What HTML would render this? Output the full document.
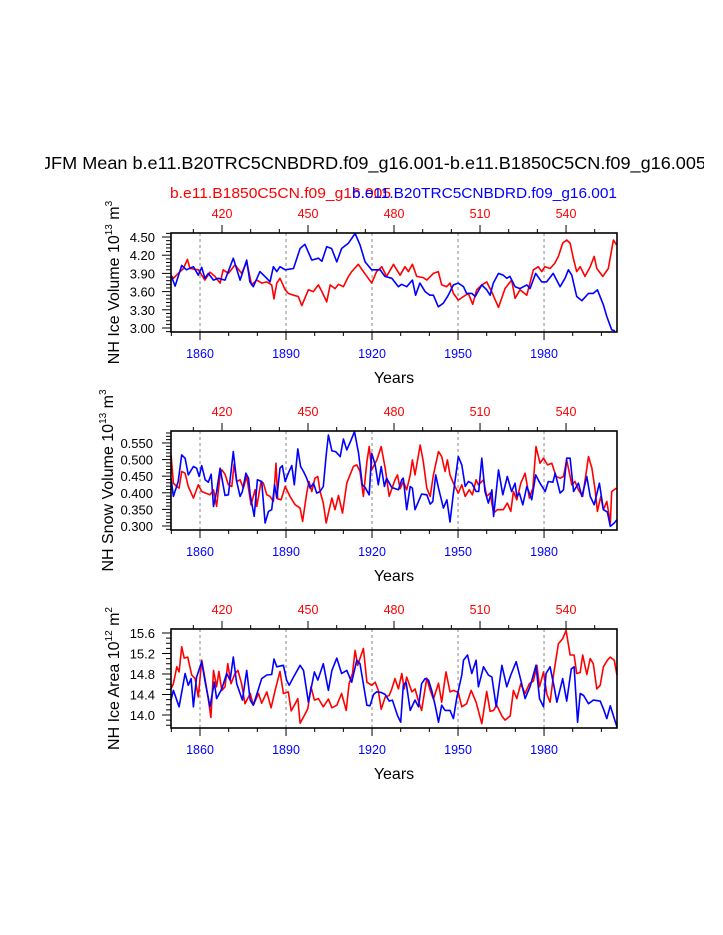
<!DOCTYPE html>
<html><head><meta charset="utf-8"><style>
html,body{margin:0;padding:0;background:#fff;}
svg{display:block;font-family:"Liberation Sans",Arial,sans-serif;}
</style></head><body>
<svg id="chart" width="723" height="935" viewBox="0 0 723 935" xmlns="http://www.w3.org/2000/svg">
<rect width="723" height="935" fill="#fff"/>
<defs><clipPath id="titleclip"><rect x="45" y="140" width="659" height="40"/></clipPath></defs>
<text x="374" y="169" font-size="17.5" text-anchor="middle" clip-path="url(#titleclip)" textLength="664" lengthAdjust="spacingAndGlyphs">JFM Mean b.e11.B20TRC5CNBDRD.f09_g16.001-b.e11.B1850C5CN.f09_g16.005</text>
<text x="170" y="198" font-size="15" fill="#ff0000" textLength="221" lengthAdjust="spacingAndGlyphs">b.e11.B1850C5CN.f09_g16.005</text>
<text x="617" y="198" font-size="15" fill="#0000ff" text-anchor="end" textLength="265" lengthAdjust="spacingAndGlyphs">b.e11.B20TRC5CNBDRD.f09_g16.001</text>
<g id="panels"></g>
</svg>
<script>
// ---- shared axis data ----
const bottomTicks = [1860, 1890, 1920, 1950, 1980];
const topTicks = [420, 450, 480, 510, 540];
const modelYearOffset = 1447.67;

// ---- Panel 1: NH Ice Volume ----
const p1BlueYears = [1849.8,1851.3,1853.6,1855.3,1857.7,1859.4,1860.6,1861.7,1862.9,1864.7,1866.4,1868.7,1871.6,1874.0,1876.3,1877.4,1878.6,1880.9,1883.3,1884.4,1885.6,1886.8,1887.9,1889.7,1892.6,1894.9,1896.6,1899.0,1901.3,1902.5,1904.2,1905.9,1907.7,1909.4,1911.8,1914.1,1915.8,1917.6,1919.9,1922.8,1924.5,1926.9,1929.2,1930.3,1932.1,1934.1,1935.2,1936.7,1938.5,1940.2,1941.4,1943.1,1944.9,1946.6,1948.4,1950.1,1951.9,1953.0,1954.8,1956.0,1958.3,1960.0,1961.2,1962.3,1964.1,1965.8,1967.0,1968.1,1969.9,1971.6,1974.0,1975.1,1977.1,1979.2,1980.9,1983.2,1985.6,1987.3,1988.5,1989.7,1991.4,1993.2,1995.5,1997.2,1998.6,2000.7,2001.9,2003.6,2004.8];
const p1BlueVals = [3.87,3.69,4.03,3.96,4.01,3.87,4.0,3.82,3.90,3.79,3.82,3.79,4.15,3.79,4.12,3.76,3.68,3.93,3.82,3.76,4.01,3.93,4.01,3.96,3.98,4.31,4.38,4.12,4.15,4.10,4.34,4.31,4.09,4.31,4.40,4.56,4.37,4.09,3.96,3.96,3.85,3.82,3.68,3.72,3.68,3.79,3.54,3.74,3.60,3.54,3.54,3.35,3.41,3.54,3.71,3.74,3.68,3.57,3.57,3.52,3.71,3.63,3.54,3.74,3.90,3.87,3.82,3.85,3.68,3.65,3.71,3.65,3.90,3.76,3.76,3.90,3.68,3.82,3.96,3.87,3.52,3.45,3.57,3.57,3.63,3.38,3.19,2.97,2.95];
const p1RedYears = [1849.8,1850.7,1852.4,1854.2,1855.6,1856.5,1859.4,1861.7,1863.5,1865.2,1867.0,1868.1,1869.9,1872.2,1874.5,1876.3,1878.0,1879.8,1881.5,1883.3,1885.0,1885.8,1886.8,1887.9,1889.7,1890.8,1892.6,1894.3,1895.5,1897.8,1899.5,1901.3,1902.5,1904.2,1905.4,1907.1,1908.3,1910.0,1911.8,1912.9,1915.2,1917.0,1918.7,1919.9,1921.6,1923.4,1925.1,1927.5,1929.8,1931.5,1932.7,1934.1,1935.6,1937.9,1939.1,1941.4,1943.1,1944.3,1946.0,1947.2,1948.4,1950.1,1951.9,1953.6,1955.1,1956.5,1958.3,1960.0,1961.7,1964.1,1966.4,1968.7,1969.9,1971.6,1974.0,1976.3,1978.0,1979.2,1980.3,1982.1,1983.8,1985.0,1986.5,1987.9,1989.1,1990.2,1991.4,1992.6,1994.3,1996.1,1997.5,1998.4,2000.5,2002.4,2004.2,2005.3];
const p1RedVals = [3.87,3.82,3.90,3.98,4.13,3.98,3.96,3.79,3.92,3.85,3.74,3.96,3.90,4.04,3.90,4.09,3.71,3.79,3.74,3.76,3.71,3.48,3.74,3.82,3.63,3.57,3.54,3.52,3.37,3.63,3.60,3.71,3.60,3.43,3.71,3.65,3.72,3.68,3.85,3.93,4.05,3.93,3.82,3.74,3.93,4.01,3.85,4.05,3.87,4.01,3.93,4.05,3.85,3.83,3.79,3.90,3.93,3.71,3.68,3.74,3.57,3.46,3.52,3.57,3.39,3.63,3.71,3.76,3.60,3.34,3.65,3.79,3.49,3.63,3.54,3.96,4.01,3.93,4.01,3.98,4.07,4.18,4.40,4.45,4.40,4.15,3.93,4.01,3.85,4.01,4.18,3.98,3.85,3.98,4.45,4.37];
const p1TickLabels = ["4.50","4.20","3.90","3.60","3.30","3.00"];

// ---- Panel 2: NH Snow Volume ----
const p2BlueYears = [1849.8,1850.7,1852.4,1853.6,1854.8,1855.9,1857.7,1858.8,1859.7,1860.6,1861.8,1862.9,1863.9,1864.7,1865.8,1867.0,1868.7,1869.9,1871.6,1872.8,1874.0,1874.8,1876.0,1876.9,1877.5,1878.9,1880.0,1881.5,1882.7,1883.9,1885.0,1886.0,1886.8,1887.9,1888.7,1889.7,1890.8,1892.0,1892.9,1894.1,1895.1,1896.1,1897.2,1898.4,1899.6,1900.7,1901.9,1903.0,1904.0,1904.8,1906.0,1907.3,1908.9,1910.0,1911.2,1912.7,1913.9,1915.3,1916.6,1917.6,1919.0,1919.9,1921.1,1922.2,1923.2,1924.3,1925.1,1926.9,1929.2,1930.4,1930.9,1932.1,1933.3,1934.1,1935.0,1936.2,1937.3,1939.1,1940.3,1941.2,1942.2,1943.2,1944.9,1946.1,1947.2,1948.4,1950.1,1951.3,1952.5,1953.6,1954.8,1956.3,1957.2,1958.3,1959.4,1960.6,1961.8,1962.4,1964.1,1965.6,1967.2,1968.7,1969.9,1970.5,1971.4,1972.6,1974.0,1975.1,1975.7,1977.1,1978.6,1980.4,1981.5,1983.1,1983.9,1985.6,1986.8,1987.9,1989.1,1990.3,1992.0,1993.2,1994.9,1996.1,1997.5,1999.3,2000.7,2002.1,2003.1,2004.5,2005.4];
const p2BlueVals = [0.444,0.389,0.434,0.514,0.504,0.454,0.479,0.474,0.449,0.482,0.439,0.432,0.456,0.359,0.404,0.474,0.392,0.394,0.524,0.434,0.389,0.404,0.459,0.444,0.394,0.329,0.439,0.434,0.309,0.344,0.349,0.424,0.384,0.474,0.482,0.434,0.459,0.482,0.424,0.532,0.479,0.464,0.444,0.414,0.429,0.399,0.404,0.419,0.514,0.574,0.526,0.524,0.509,0.562,0.529,0.559,0.584,0.519,0.424,0.416,0.394,0.519,0.484,0.424,0.479,0.419,0.444,0.416,0.409,0.439,0.444,0.349,0.419,0.414,0.349,0.374,0.396,0.394,0.366,0.374,0.454,0.414,0.354,0.379,0.312,0.399,0.509,0.484,0.419,0.434,0.429,0.404,0.404,0.504,0.404,0.369,0.409,0.329,0.469,0.394,0.449,0.404,0.429,0.389,0.399,0.364,0.419,0.394,0.379,0.454,0.429,0.404,0.434,0.432,0.459,0.399,0.409,0.504,0.504,0.404,0.429,0.389,0.449,0.389,0.364,0.429,0.349,0.342,0.299,0.309,0.319];
const p2RedYears = [1849.8,1850.7,1851.9,1852.7,1853.6,1854.8,1855.9,1857.7,1859.4,1860.6,1862.0,1863.5,1864.7,1865.8,1867.0,1867.6,1868.7,1869.9,1871.1,1871.9,1872.8,1874.0,1875.1,1876.3,1877.8,1879.2,1879.8,1881.3,1882.1,1883.3,1884.4,1885.6,1886.5,1887.1,1888.3,1889.7,1891.4,1893.2,1894.9,1895.8,1897.2,1898.0,1899.0,1900.1,1901.1,1901.9,1903.0,1904.0,1904.8,1906.0,1907.1,1908.3,1909.7,1911.2,1912.3,1913.5,1914.7,1915.8,1917.0,1918.2,1919.0,1919.9,1921.7,1923.2,1924.6,1926.0,1928.0,1928.9,1929.8,1930.9,1932.1,1933.3,1934.1,1935.0,1936.8,1937.9,1939.1,1940.3,1941.4,1943.2,1944.3,1945.5,1946.3,1947.2,1948.4,1950.1,1951.3,1952.5,1953.9,1955.0,1956.3,1957.1,1958.9,1960.0,1961.2,1962.4,1963.7,1965.8,1967.2,1968.4,1969.3,1970.5,1971.9,1973.4,1974.9,1976.1,1977.2,1978.6,1979.8,1981.2,1982.7,1984.2,1985.6,1986.8,1987.9,1989.7,1990.8,1992.0,1993.5,1995.5,1996.7,1997.8,1998.6,1999.8,2000.7,2001.9,2003.1,2003.6,2005.2];
const p2RedVals = [0.514,0.429,0.419,0.414,0.464,0.459,0.419,0.384,0.424,0.404,0.399,0.394,0.409,0.359,0.454,0.469,0.456,0.424,0.419,0.486,0.434,0.439,0.414,0.449,0.364,0.409,0.359,0.434,0.429,0.394,0.389,0.374,0.489,0.382,0.379,0.419,0.389,0.364,0.354,0.314,0.399,0.434,0.404,0.444,0.449,0.404,0.369,0.309,0.339,0.384,0.349,0.392,0.339,0.429,0.454,0.479,0.484,0.464,0.389,0.494,0.539,0.469,0.499,0.539,0.474,0.389,0.439,0.454,0.412,0.434,0.409,0.454,0.499,0.454,0.544,0.494,0.414,0.389,0.454,0.524,0.509,0.464,0.499,0.454,0.429,0.399,0.424,0.389,0.409,0.394,0.439,0.424,0.439,0.389,0.399,0.339,0.349,0.349,0.369,0.344,0.404,0.379,0.429,0.459,0.384,0.414,0.539,0.489,0.504,0.484,0.489,0.449,0.444,0.449,0.499,0.424,0.434,0.409,0.389,0.509,0.474,0.409,0.344,0.389,0.349,0.374,0.309,0.404,0.414];
const p2TickLabels = ["0.550","0.500","0.450","0.400","0.350","0.300"];

// ---- Panel 3: NH Ice Area ----
const p3BlueYears = [1849.8,1850.7,1852.7,1854.8,1855.9,1856.9,1857.7,1858.8,1860.6,1861.8,1863.5,1865.0,1865.8,1867.6,1869.3,1870.5,1871.6,1872.8,1874.8,1876.3,1877.5,1878.6,1880.4,1881.5,1883.3,1885.0,1885.8,1886.8,1889.1,1890.2,1891.1,1892.6,1894.9,1896.1,1897.8,1899.9,1901.1,1903.0,1904.8,1906.0,1907.7,1909.4,1911.2,1912.9,1914.7,1915.8,1918.2,1919.3,1920.5,1921.6,1923.2,1924.6,1926.0,1927.1,1928.9,1930.0,1930.9,1931.9,1933.3,1935.0,1936.2,1937.3,1938.5,1939.7,1940.8,1942.0,1943.2,1944.3,1945.5,1947.2,1948.4,1949.6,1951.3,1951.9,1953.3,1954.8,1956.3,1957.1,1958.9,1960.6,1961.8,1963.3,1965.3,1967.0,1968.4,1970.3,1971.9,1973.4,1975.1,1977.2,1978.4,1979.8,1980.7,1982.1,1983.5,1984.5,1986.5,1987.9,1989.5,1990.5,1991.7,1992.6,1993.8,1995.5,1997.2,1999.6,2000.7,2001.9,2003.1,2004.5,2005.4];
const p3BlueVals = [14.29,14.48,14.16,14.81,14.58,14.71,14.16,14.74,15.04,14.64,14.16,14.64,14.32,14.51,14.81,14.68,15.13,14.61,14.29,14.87,14.29,14.19,14.51,14.71,14.78,14.79,15.09,14.94,14.97,14.68,14.58,14.74,14.97,14.87,14.25,14.84,14.68,15.00,14.48,14.87,15.11,14.81,14.87,14.64,15.07,15.00,14.19,14.18,14.40,14.45,14.44,14.40,14.27,14.29,13.99,13.86,14.58,14.64,14.09,14.29,14.16,14.61,14.71,14.68,14.48,14.19,13.86,14.19,14.09,14.09,13.93,14.35,14.78,15.07,15.17,14.81,15.07,14.55,14.94,14.78,14.74,14.16,14.97,14.55,14.78,15.04,14.68,14.32,14.55,14.97,14.32,14.16,14.81,14.94,14.55,14.25,14.71,14.27,14.90,14.94,13.86,14.42,14.38,14.22,14.29,14.27,14.12,13.93,14.18,13.93,13.77];
const p3RedYears = [1849.8,1850.7,1851.9,1852.7,1853.6,1854.5,1855.7,1857.1,1858.3,1859.4,1860.6,1861.8,1862.7,1863.8,1864.7,1865.8,1866.6,1867.6,1868.7,1869.7,1870.8,1872.2,1873.2,1874.5,1875.7,1877.5,1878.6,1880.4,1881.5,1883.3,1884.8,1886.2,1887.9,1889.1,1890.8,1891.8,1893.2,1894.1,1894.9,1896.1,1897.6,1898.7,1899.9,1901.3,1903.0,1904.8,1906.0,1907.7,1909.4,1911.0,1912.0,1913.2,1914.1,1915.0,1917.0,1918.2,1919.9,1921.1,1922.2,1923.2,1924.6,1926.0,1926.9,1928.0,1929.2,1930.4,1931.2,1932.1,1933.9,1935.0,1936.2,1937.3,1939.1,1940.3,1941.4,1943.2,1944.3,1945.8,1947.2,1948.4,1950.1,1951.3,1953.0,1954.6,1956.3,1958.3,1960.0,1961.2,1962.4,1963.5,1965.3,1966.4,1968.2,1969.3,1970.5,1971.9,1973.4,1974.9,1976.3,1977.5,1978.4,1979.8,1981.0,1982.1,1983.3,1985.0,1986.5,1987.7,1989.1,1990.5,1991.4,1992.6,1993.5,1994.9,1996.1,1997.2,1998.4,1999.6,2000.7,2002.1,2003.1,2004.5,2005.4];
const p3RedVals = [14.51,14.61,14.94,14.84,15.33,15.11,15.13,14.78,14.71,14.35,15.07,14.68,14.38,13.95,14.87,14.55,14.85,14.48,14.55,15.00,14.61,14.81,14.87,14.61,14.22,14.42,14.19,14.42,14.23,14.45,14.14,14.48,14.85,14.42,14.45,14.08,14.22,14.32,13.84,13.96,14.12,14.55,14.29,14.32,14.16,14.31,14.14,14.19,14.42,14.09,14.61,14.81,15.26,14.97,15.30,14.64,14.58,14.64,14.48,14.11,14.35,14.38,14.51,14.71,14.51,14.81,14.51,14.74,14.45,14.51,14.27,14.09,14.72,14.48,14.31,14.62,14.25,14.84,14.45,14.48,14.44,14.16,14.22,14.48,14.25,13.83,14.46,14.07,14.09,14.19,13.98,13.90,13.98,14.48,14.32,14.61,14.42,14.61,14.66,14.97,14.55,14.84,14.40,14.25,14.78,15.39,15.49,15.65,15.17,15.17,14.81,14.83,15.17,14.79,15.10,15.00,14.51,14.58,14.94,15.07,15.13,15.07,14.78];
const p3TickLabels = ["15.6","15.2","14.8","14.4","14.0"];

const NS = "http://www.w3.org/2000/svg";
const root = document.getElementById("panels");
function mk(tag, attrs, parent) {
  const e = document.createElementNS(NS, tag);
  for (const k in attrs) e.setAttribute(k, attrs[k]);
  (parent || root).appendChild(e);
  return e;
}
const X0 = 171, X1 = 617, YEAR0 = 1849.88, YEAR1 = 2005.45;
function xScale(yr) { return X0 + (yr - YEAR0) / (YEAR1 - YEAR0) * (X1 - X0); }

function panel(cfg) {
  const g = mk("g", {});
  
  
  const top = cfg.top, bot = cfg.top + 99;
  const yScale = v => bot - (v - cfg.ymin) / (cfg.ymax - cfg.ymin) * (bot - top);
  // dashed gridlines
  bottomTicks.forEach(t => {
    const l = mk("line", {x1: xScale(t), x2: xScale(t), y1: top, y2: bot, stroke: "#888", "stroke-width": 1, "stroke-dasharray": "3,3"}, g);
    
    
  });
  // series
  const series = [[cfg.redY, cfg.redV, "#ff0000", "red-series-line"], [cfg.blueY, cfg.blueV, "#0000ff", "blue-series-line"]];
  series.forEach(s => {
    const pts = s[0].map((yr, i) => xScale(Math.min(Math.max(yr, YEAR0), YEAR1)).toFixed(1) + "," + yScale(s[1][i]).toFixed(1)).join(" ");
    const p = mk("polyline", {points: pts, fill: "none", stroke: s[2], "stroke-width": 1.6, "stroke-linejoin": "round"}, g);
    
    
  });
  // frame
  const fr = mk("rect", {x: X0, y: top, width: X1 - X0, height: bot - top, fill: "none", stroke: "#000", "stroke-width": 1.6}, g);
  
  
  // bottom ticks minor/major
  for (let yr = 1850; yr <= 2000; yr += 10) {
    const major = bottomTicks.includes(yr);
    mk("line", {x1: xScale(yr), x2: xScale(yr), y1: bot, y2: bot + (major ? 8 : 4), stroke: "#000", "stroke-width": 1}, g);
  }
  bottomTicks.forEach(t => {
    const tx = mk("text", {x: xScale(t), y: bot + 26, "font-size": 12.5, fill: "#0000ff", "text-anchor": "middle"}, g);
    tx.textContent = String(t);
    
    
  });
  // top ticks
  for (let m = 410; m <= 550; m += 10) {
    const major = topTicks.includes(m);
    const xx = xScale(m + modelYearOffset);
    if (xx < X0 || xx > X1) continue;
    mk("line", {x1: xx, x2: xx, y1: top, y2: top - (major ? 8 : 4), stroke: "#000", "stroke-width": 1}, g);
  }
  topTicks.forEach(t => {
    const tx = mk("text", {x: xScale(t + modelYearOffset), y: top - 15, "font-size": 12.5, fill: "#ff0000", "text-anchor": "middle"}, g);
    tx.textContent = String(t);
    
    
  });
  // y ticks
  for (let v = cfg.ymin; v <= cfg.ymax + 1e-9; v += cfg.minor) {
    const r = Math.round(v / cfg.minor) * cfg.minor;
    if (r < cfg.ymin - 1e-9) continue;
    const isMajor = Math.abs(Math.round(r / cfg.major) * cfg.major - r) < 1e-6;
    mk("line", {x1: X0, x2: X0 - (isMajor ? 9 : 5), y1: yScale(r), y2: yScale(r), stroke: "#000", "stroke-width": 1}, g);
  }
  cfg.labels.forEach(lab => {
    const tx = mk("text", {x: cfg.labelX, y: yScale(parseFloat(lab)) + 5, "font-size": 13, "text-anchor": "end"}, g);
    tx.textContent = lab;
    
    
  });
  // y title
  const cy = (top + bot) / 2;
  const yt = mk("text", {x: 0, y: 0, "font-size": 16, "text-anchor": "middle", transform: "translate(" + cfg.titleX + "," + cy + ") rotate(-90)"}, g);
  
  
  const t1 = mk("tspan", {}, yt); t1.textContent = cfg.title + " 10";
  const t2 = mk("tspan", {dy: -7, "font-size": 10}, yt); t2.textContent = cfg.exp;
  const t3 = mk("tspan", {dy: 7}, yt); t3.textContent = " m";
  const t4 = mk("tspan", {dy: -7, "font-size": 10}, yt); t4.textContent = cfg.unitExp;
  // x title
  const xt = mk("text", {x: 394, y: bot + 51, "font-size": 16, "text-anchor": "middle"}, g);
  xt.textContent = "Years";
  
  
}

panel({name: "ice-volume-panel", top: 233, ymin: 2.934, ymax: 4.566, major: 0.3, minor: 0.06, labels: p1TickLabels, labelX: 155, titleX: 119,
  title: "NH Ice Volume", exp: "13", unitExp: "3", blueY: p1BlueYears, blueV: p1BlueVals, redY: p1RedYears, redV: p1RedVals});
panel({name: "snow-volume-panel", top: 431, ymin: 0.288, ymax: 0.586, major: 0.05, minor: 0.01, labels: p2TickLabels, labelX: 153, titleX: 113,
  title: "NH Snow Volume", exp: "13", unitExp: "3", blueY: p2BlueYears, blueV: p2BlueVals, redY: p2RedYears, redV: p2RedVals});
panel({name: "ice-area-panel", top: 629, ymin: 13.746, ymax: 15.678, major: 0.4, minor: 0.1, labels: p3TickLabels, labelX: 155, titleX: 119,
  title: "NH Ice Area", exp: "12", unitExp: "2", blueY: p3BlueYears, blueV: p3BlueVals, redY: p3RedYears, redV: p3RedVals});
</script>
</body></html>
